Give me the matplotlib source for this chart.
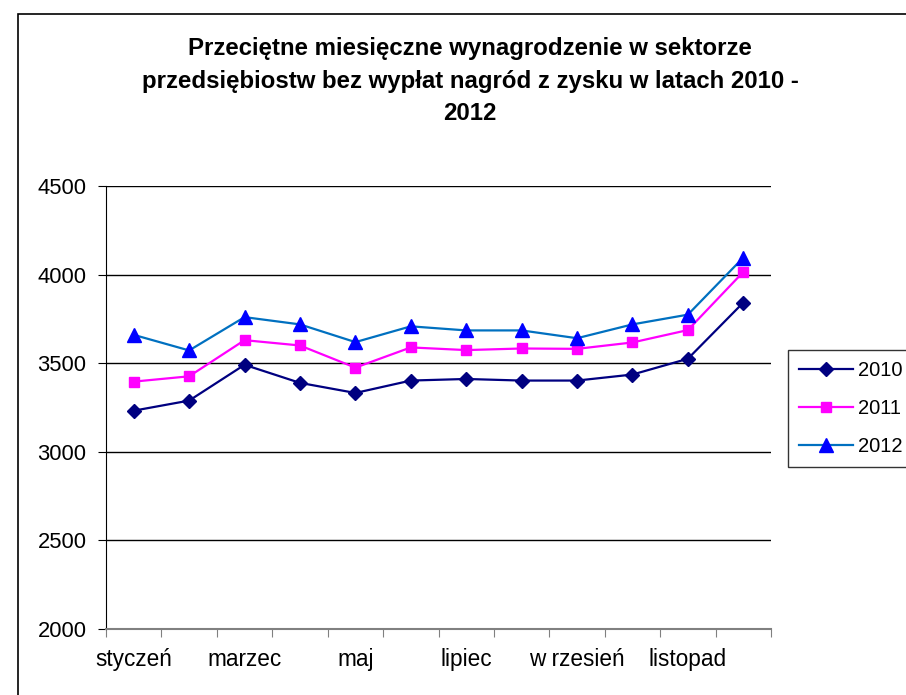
import matplotlib.pyplot as plt
from matplotlib.patches import Rectangle

plt.rcParams['font.family'] = ['Liberation Sans', 'DejaVu Sans']

months = ['styczeń', 'luty', 'marzec', 'kwiecień', 'maj', 'czerwiec',
          'lipiec', 'sierpień', 'wrzesień', 'październik', 'listopad', 'grudzień']
shown_labels = ['styczeń', '', 'marzec', '', 'maj', '', 'lipiec', '',
                'w rzesień', '', 'listopad', '']

y2010 = [3232, 3289, 3491, 3389, 3332, 3402, 3411, 3402, 3402, 3436, 3525, 3842]
y2011 = [3396, 3426, 3630, 3600, 3475, 3589, 3574, 3583, 3581, 3617, 3687, 4015]
y2012 = [3660, 3572, 3760, 3719, 3619, 3708, 3685, 3685, 3641, 3719, 3774, 4096]

title = ('Przeciętne miesięczne wynagrodzenie w sektorze\n'
         'przedsiębiostw bez wypłat nagród z zysku w latach 2010 -\n'
         '2012')

W, H = 906, 695
fig = plt.figure(figsize=(W / 100, H / 100), dpi=100)
fig.patch.set_facecolor('white')

# chart area border (runs off the right/bottom edge like the original)
fig.patches.append(Rectangle((18 / W, -0.05), 1.2, 1 - 14 / H + 0.05,
                             transform=fig.transFigure, fill=False,
                             edgecolor='black', linewidth=1.2))

ax = fig.add_axes([106 / W, 1 - 629 / H, (771 - 106) / W, (629 - 186) / H])
x = list(range(len(months)))

ax.plot(x, y2010, color='#000080', lw=1.6, marker='D', ms=7.5,
        mfc='#000080', mec='#000080', label='2010')
ax.plot(x, y2011, color='#FF00FF', lw=1.6, marker='s', ms=7.5,
        mfc='#FF00FF', mec='#FF00FF', label='2011')
ax.plot(x, y2012, color='#0070C0', lw=1.6, marker='^', ms=9.5,
        mfc='#0000FF', mec='#0000FF', label='2012')

ax.set_xlim(-0.5, 11.5)
ax.set_ylim(2000, 4500)
ax.set_yticks([2000, 2500, 3000, 3500, 4000, 4500])
ax.yaxis.grid(True, color='black', lw=1.0)
ax.set_axisbelow(True)

ax.set_xticks([i - 0.5 for i in range(13)])
ax.set_xticklabels([])
ax.set_xticks(x, minor=True)
ax.set_xticklabels(shown_labels, minor=True, fontsize=16.3)
ax.tick_params(axis='x', which='minor', length=0, pad=14)
ax.tick_params(axis='x', which='major', length=6, color='#808080', direction='out')
ax.tick_params(axis='y', length=6, direction='out', labelsize=15.8, pad=8)

for s in ['top', 'right']:
    ax.spines[s].set_visible(False)
ax.spines['bottom'].set_color('#808080')
ax.spines['bottom'].set_linewidth(1.5)
ax.spines['left'].set_color('black')

fig.text(470 / W, 1 - 37 / H, title, ha='center', va='top', fontsize=17.3,
         fontweight='bold', linespacing=1.54)

leg = fig.legend(loc='upper left', bbox_to_anchor=(788 / W, 1 - 350 / H),
                 bbox_transform=fig.transFigure, fontsize=14.5, frameon=True,
                 fancybox=False, edgecolor='black', handlelength=2.7,
                 borderaxespad=0, borderpad=0.55, labelspacing=0.95,
                 handletextpad=0.25)
leg.get_frame().set_linewidth(1.0)

fig.savefig('out.png', dpi=100)
